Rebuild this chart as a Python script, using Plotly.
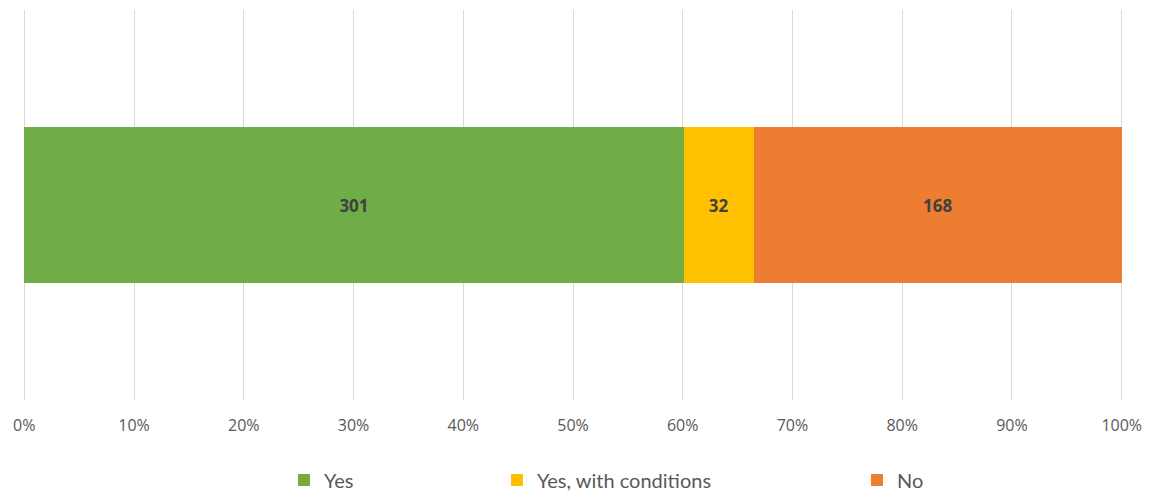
import plotly.graph_objects as go

categories = ["Yes", "Yes, with conditions", "No"]
values = [301, 32, 168]
colors = ["#70ad47", "#ffc000", "#ed7d31"]
tick_vals = [0, 10, 20, 30, 40, 50, 60, 70, 80, 90, 100]
tick_text = [f"{v}%" for v in tick_vals]

fig = go.Figure()
legend_names = ["legend", "legend2", "legend3"]
for name, val, col, lg in zip(categories, values, colors, legend_names):
    fig.add_trace(go.Bar(
        y=[0], x=[val], name=name, orientation="h",
        marker=dict(color=col, line=dict(width=0)),
        text=[str(val)], textposition="inside", insidetextanchor="middle",
        textangle=0,
        textfont=dict(family="Open Sans", size=17, color="#404040", weight="bold"),
        width=0.4, legend=lg, hoverinfo="x+name",
    ))

W, H = 1151, 493
ml, mr, mt, mb = 21, 26, 10, 93
pw = W - ml - mr

def lx(px):
    return (px - ml) / pw

legend_common = dict(orientation="h", yanchor="middle", yref="container",
                     y=1 - 480 / H, xanchor="left",
                     font=dict(family="Lato", size=20, color="#595959"),
                     bgcolor="rgba(0,0,0,0)", itemwidth=30)
fig.update_layout(
    width=W, height=H,
    margin=dict(l=ml, r=mr, t=mt, b=mb, autoexpand=False),
    barmode="stack", barnorm="percent",
    plot_bgcolor="white", paper_bgcolor="white",
    xaxis=dict(range=[-0.3, 100.3], tickvals=tick_vals, ticktext=tick_text,
               showgrid=True, gridcolor="#d9d9d9", gridwidth=1,
               zeroline=False, showline=False, ticks="",
               ticklabelstandoff=14,
               tickfont=dict(family="Open Sans", size=16, color="#595959")),
    yaxis=dict(range=[-0.5, 0.5], showticklabels=False, showgrid=False,
               zeroline=False, showline=False),
    legend=dict(**legend_common, x=lx(284)),
    legend2=dict(**legend_common, x=lx(497)),
    legend3=dict(**legend_common, x=lx(857)),
    showlegend=True,
)

fig.write_html("out.html")
